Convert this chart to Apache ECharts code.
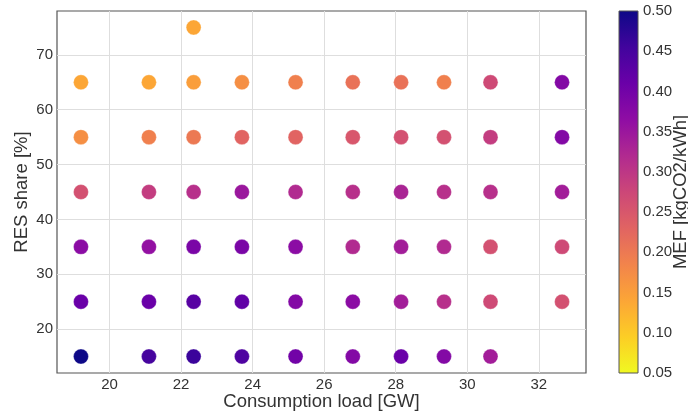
<!DOCTYPE html>
<html>
<head>
<meta charset="utf-8">
<script src="https://cdn.jsdelivr.net/npm/echarts@6/dist/echarts.min.js"></script>
<style>
  html, body { margin: 0; padding: 0; background: #fff; }
  #chart { width: 688px; height: 414px; }
</style>
</head>
<body>
<div id="chart"></div>
<script>
// consumption load [GW] of each column
const loads = [19.2, 21.1, 22.35, 23.7, 25.2, 26.8, 28.15, 29.35, 30.65, 32.65];
// RES share [%] of each row
const shares = [15, 25, 35, 45, 55, 65];
// MEF [kgCO2/kWh], one row per share, one value per load (null = no point)
const mef15 = [0.50, 0.45, 0.46, 0.44, 0.40, 0.38, 0.41, 0.38, 0.34, null];
const mef25 = [0.41, 0.41, 0.43, 0.42, 0.38, 0.37, 0.34, 0.31, 0.27, 0.26];
const mef35 = [0.37, 0.36, 0.39, 0.39, 0.37, 0.32, 0.34, 0.32, 0.26, 0.27];
const mef45 = [0.26, 0.29, 0.31, 0.35, 0.32, 0.31, 0.33, 0.31, 0.31, 0.34];
const mef55 = [0.17, 0.19, 0.20, 0.23, 0.23, 0.25, 0.26, 0.26, 0.29, 0.38];
const mef65 = [0.14, 0.14, 0.15, 0.17, 0.19, 0.21, 0.21, 0.19, 0.27, 0.38];
// the single extra point
const extraPoint = [22.35, 75, 0.14];

const xTicks = [20, 22, 24, 26, 28, 30, 32];
const yTicks = [20, 30, 40, 50, 60, 70];

// plasma, reversed (low = yellow, high = dark blue)
const plasmaR = ['#f0f921', '#fcce25', '#fca636', '#f2844b', '#e16462', '#cc4778',
                 '#b12a90', '#8f0da4', '#6a00a8', '#41049d', '#0d0887'];

const mefRows = [mef15, mef25, mef35, mef45, mef55, mef65];
const points = [];
mefRows.forEach((row, i) => {
  row.forEach((v, j) => {
    if (v !== null) points.push([loads[j], shares[i], v]);
  });
});
points.push(extraPoint);

const chart = echarts.init(document.getElementById('chart'));
const txt = '#333';
const font = 'Liberation Sans, Arial, sans-serif';

// gradient for the colour bar: top = max value
const cbarStops = plasmaR.map((c, i) => ({ offset: 1 - i / (plasmaR.length - 1), color: c }));

const option = {
  animation: false,
  backgroundColor: '#fff',
  textStyle: { fontFamily: font },
  grid: [
    { left: 57, right: 102, top: 11, bottom: 41, show: true, borderColor: '#555', borderWidth: 1.2,
      containLabel: false, outerBoundsMode: 'none' },
    { left: 619, width: 19, top: 11, bottom: 41, show: true, borderColor: '#555', borderWidth: 1,
      containLabel: false, outerBoundsMode: 'none',
      backgroundColor: new echarts.graphic.LinearGradient(0, 0, 0, 1, cbarStops) }
  ],
  xAxis: [
    {
      type: 'value', gridIndex: 0, min: 18.53, max: 33.32,
      name: 'Consumption load [GW]', nameLocation: 'middle', nameGap: 19, nameMoveOverlap: false,
      nameTextStyle: { fontSize: 18.5, color: txt, fontFamily: font },
      axisLine: { show: false },
      axisTick: { show: false, customValues: xTicks },
      axisLabel: { customValues: xTicks, fontSize: 15, color: txt, margin: 4, fontFamily: font },
      splitLine: { show: true, lineStyle: { color: '#dedede', width: 1 } }
    },
    {
      type: 'value', gridIndex: 1, min: 0, max: 1, show: false
    }
  ],
  yAxis: [
    {
      type: 'value', gridIndex: 0, min: 12, max: 78,
      name: 'RES share [%]', nameLocation: 'middle', nameGap: 26, nameRotate: 90, nameMoveOverlap: false,
      nameTextStyle: { fontSize: 18.5, color: txt, fontFamily: font },
      axisLine: { show: false },
      axisTick: { show: false, customValues: yTicks },
      axisLabel: { customValues: yTicks, fontSize: 15, color: txt, margin: 4, fontFamily: font },
      splitLine: { show: true, lineStyle: { color: '#dedede', width: 1 } }
    },
    {
      type: 'value', gridIndex: 1, position: 'right', min: 0.05, max: 0.5, interval: 0.05,
      name: 'MEF [kgCO2/kWh]', nameLocation: 'middle', nameGap: 33, nameRotate: 90, nameMoveOverlap: false,
      nameTextStyle: { fontSize: 18.5, color: txt, fontFamily: font },
      axisLine: { show: false },
      axisTick: { show: false },
      splitLine: { show: false },
      axisLabel: { fontSize: 15, color: txt, margin: 5, fontFamily: font,
        formatter: v => v.toFixed(2) }
    }
  ],
  visualMap: {
    show: false, type: 'continuous', min: 0.05, max: 0.5, dimension: 2,
    seriesIndex: 0, inRange: { color: plasmaR }
  },
  series: [
    {
      type: 'scatter', xAxisIndex: 0, yAxisIndex: 0,
      symbolSize: 15,
      itemStyle: { opacity: 1, borderColor: 'rgba(255,255,255,0.6)', borderWidth: 0.5 },
      data: points
    }
  ]
};

chart.setOption(option);
</script>
</body>
</html>
